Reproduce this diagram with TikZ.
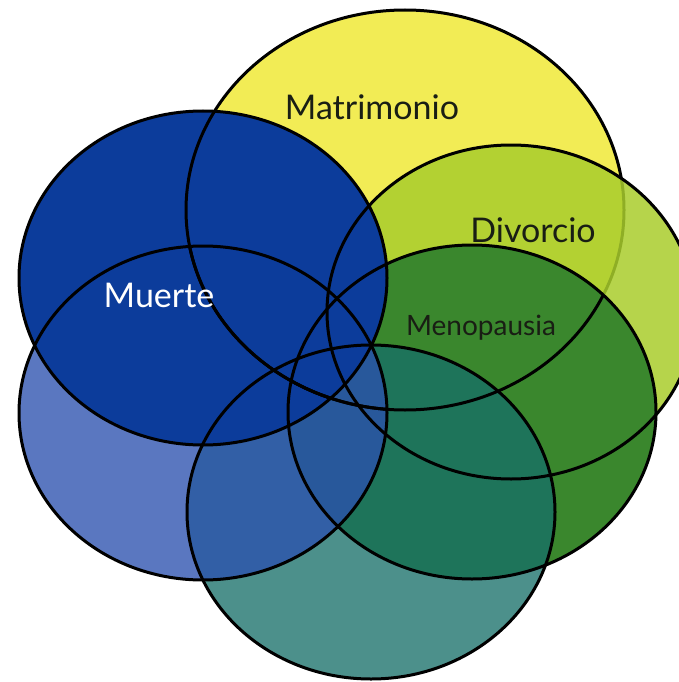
\documentclass[tikz,border=0pt]{standalone}
\usepackage{fontspec}
\setmainfont{Lato}
\usepackage{xcolor}
\definecolor{vnyellow}{RGB}{242,236,85}
\definecolor{vnlime}{RGB}{169,205,44}
\definecolor{vngreen}{RGB}{58,135,45}
\definecolor{vnteal}{RGB}{22,111,104}
\definecolor{vnsky}{RGB}{43,81,174}
\definecolor{vnnavy}{RGB}{12,60,155}
\definecolor{vntext}{RGB}{25,30,20}

\begin{document}
\begin{tikzpicture}[x=1pt,y=-1pt,
  ring/.style={draw=black,line width=3pt},
  wide/.style={x radius=219,y radius=200},
  oval/.style={x radius=184,y radius=167},
  tag/.style={font=\fontsize{34}{38}\selectfont,text=vntext,inner sep=0pt}]
  \clip (0,0) rectangle (679,682);
  % centres
  \coordinate (mat) at (405,210);
  \coordinate (div) at (511,312);
  \coordinate (meno) at (472,412);
  \coordinate (low) at (371,512);
  \coordinate (sky) at (203,413);
  \coordinate (mue) at (203,278);
  % Matrimonio, its rim shows faintly through Divorcio
  \fill[vnyellow] (mat) ellipse [wide];
  \draw[ring] (mat) ellipse [wide];
  \fill[vnlime,fill opacity=0.85] (div) ellipse [oval];
  % the other discs
  \fill[vngreen] (meno) ellipse [oval];
  \fill[vnteal,fill opacity=0.77] (low) ellipse [oval];
  \fill[vnsky,fill opacity=0.78] (sky) ellipse [oval];
  \fill[vnnavy] (mue) ellipse [oval];
  % rims
  \foreach \c in {meno,sky,mue}{
    \begin{scope}
      \clip (\c) ellipse [oval];
      \draw[ring] (mat) ellipse [wide];
    \end{scope}
  }
  \foreach \c in {div,meno,low,sky,mue}
    \draw[ring] (\c) ellipse [oval];
  % labels
  \node[tag] (tmat) at (372,107) {Matrimonio};
  \node[tag] (tdiv) at (533,230) {Divorcio};
  \node[tag,text=white] (tmue) at (159,295) {Muerte};
  \node[tag,font=\fontsize{28}{32}\selectfont] (tmeno) at (481,328) {Menopausia};
\end{tikzpicture}
\end{document}
